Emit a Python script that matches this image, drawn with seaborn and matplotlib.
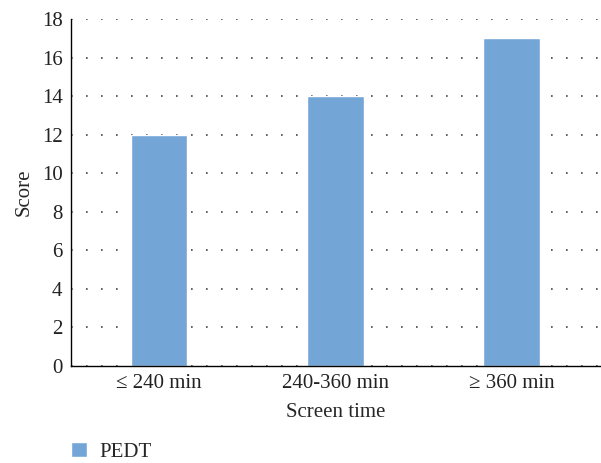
import matplotlib
matplotlib.use("Agg")
import matplotlib.pyplot as plt
import seaborn as sns
import pandas as pd

categories = ["≤ 240 min", "240-360 min", "≥ 360 min"]
scores = [12, 14, 17]
series = "PEDT"

df = pd.DataFrame({"Screen time": categories, "Score": scores, "group": series})

sns.set_style("white")
plt.rcParams["font.family"] = ["Liberation Serif", "DejaVu Serif"]

fig = plt.figure(figsize=(6.01, 4.63), dpi=100)
ax = fig.add_axes([0.118, 0.2095, 0.88, 0.7495])

sns.barplot(data=df, x="Screen time", y="Score", hue="group",
            palette=["#73a5d6"], width=0.32, saturation=1, ax=ax)

ax.set_xlim(-0.5, 2.5)
ax.set_ylim(0, 18)
ax.set_yticks(range(0, 19, 2))
ax.yaxis.grid(True, linestyle=(0, (1, 8)), color="#444444", linewidth=1.2)
ax.set_axisbelow(True)
for s in ["top", "right"]:
    ax.spines[s].set_visible(False)
for s in ["left", "bottom"]:
    ax.spines[s].set_color("black")
    ax.spines[s].set_linewidth(1)
ax.tick_params(axis="both", labelsize=15, length=0, pad=6, colors="#222222")
ax.set_xlabel("Screen time", fontsize=15, labelpad=7)
ax.set_ylabel("Score", fontsize=15, labelpad=6)

ax.legend(loc="center left", bbox_to_anchor=(0.0, -0.248), frameon=False,
          fontsize=15, handlelength=0.75, handleheight=0.75, handletextpad=0.6,
          borderaxespad=0, borderpad=0)

fig.savefig("out.png", dpi=100)
